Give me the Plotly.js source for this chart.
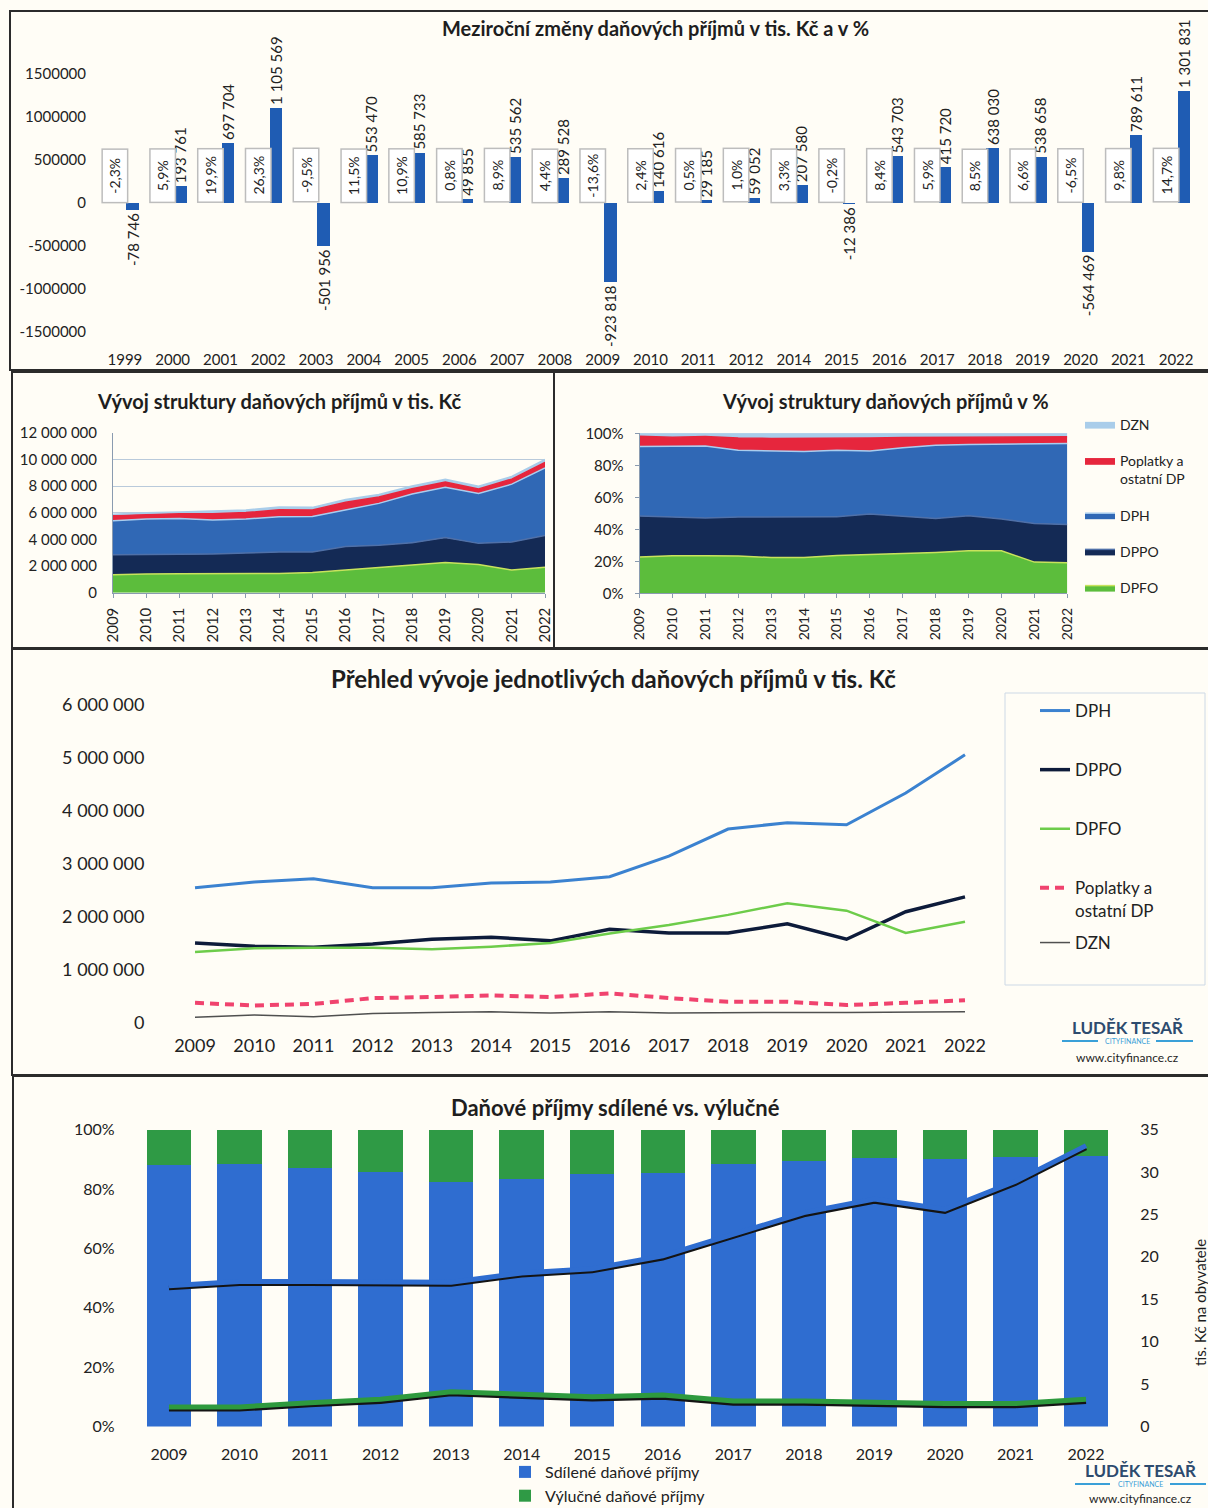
<!DOCTYPE html>
<html><head><meta charset="utf-8">
<script src="https://cdn.plot.ly/plotly-3.0.1.min.js"></script>
<style>html,body{margin:0;padding:0;background:#fffdf6;width:1208px;height:1508px;overflow:hidden;} #chart{width:1208px;height:1508px;overflow:hidden;}</style>
</head><body><div id="chart"></div>
<script>
// ---------------- DATA ----------------
const changeYears = ['1999','2000','2001','2002','2003','2004','2005','2006','2007','2008','2009','2010','2011','2012','2014','2015','2016','2017','2018','2019','2020','2021','2022'];
const changeValues = [-78746, 193761, 697704, 1105569, -501956, 553470, 585733, 49855, 535562, 289528, -923818, 140616, 29185, 59052, 207580, -12386, 543703, 415720, 638030, 538658, -564469, 789611, 1301831];
const changePercent = [-2.3, 5.9, 19.9, 26.3, -9.5, 11.5, 10.9, 0.8, 8.9, 4.4, -13.6, 2.4, 0.5, 1.0, 3.3, -0.2, 8.4, 5.9, 8.5, 6.6, -6.5, 9.8, 14.7];
const changeTickVals = [-1500000, -1000000, -500000, 0, 500000, 1000000, 1500000];
const changeTickText = ['-1500000', '-1000000', '-500000', '0', '500000', '1000000', '1500000'];

const years = ['2009','2010','2011','2012','2013','2014','2015','2016','2017','2018','2019','2020','2021','2022'];
const dph      = [2550000, 2660000, 2720000, 2550000, 2550000, 2640000, 2660000, 2760000, 3150000, 3660000, 3780000, 3740000, 4340000, 5060000];
const dppo     = [1510000, 1450000, 1430000, 1490000, 1580000, 1620000, 1550000, 1770000, 1700000, 1700000, 1870000, 1580000, 2100000, 2380000];
const dpfo     = [1340000, 1410000, 1420000, 1420000, 1390000, 1440000, 1510000, 1690000, 1850000, 2040000, 2260000, 2120000, 1700000, 1910000];
const poplatky = [380000, 330000, 360000, 470000, 490000, 520000, 490000, 560000, 470000, 400000, 400000, 340000, 380000, 430000];
const dzn      = [110000, 150000, 120000, 180000, 200000, 210000, 190000, 210000, 190000, 200000, 200000, 200000, 200000, 210000];

const sharedPct          = [88.0, 88.5, 87.1, 85.7, 82.3, 83.2, 84.9, 85.2, 88.4, 89.3, 90.4, 90.2, 90.7, 91.2];
const exclusivePct       = [12.0, 11.5, 12.9, 14.3, 17.7, 16.8, 15.1, 14.8, 11.6, 10.7, 9.6, 9.8, 9.3, 8.8];
const sharedPerCapita    = [16.6, 17.1, 17.1, 17.0, 17.0, 18.1, 18.6, 20.1, 22.7, 25.2, 26.8, 25.6, 28.9, 33.1];
const exclusivePerCapita = [2.3, 2.3, 2.8, 3.2, 4.1, 3.8, 3.5, 3.7, 3.0, 3.0, 2.8, 2.7, 2.7, 3.2];

// ---------------- HELPERS ----------------
const W = 1208, H = 1508;
const gx = p => p / W;
const gy = p => 1 - p / H;
const FONT = 'Lato, "Open Sans", "DejaVu Sans", sans-serif';
function fmtSpace(v) { const s = Math.abs(v).toString().replace(/\B(?=(\d{3})+(?!\d))/g, ' '); return (v < 0 ? '-' : '') + s; }
function fmtPct(v) { return v.toFixed(1).replace('.', ',') + '%'; }

const traces = [];

// ---- Panel 1: year-on-year changes ----
traces.push({
  type: 'bar', x: changeYears, y: changeValues, xaxis: 'x', yaxis: 'y',
  marker: { color: '#1f5cb3' }, width: 0.26, offset: 0.03,
  text: changeValues.map(fmtSpace), textposition: 'outside', textangle: -90,
  textfont: { size: 15, color: '#222', family: FONT }, constraintext: 'none', cliponaxis: false,
  showlegend: false, hoverinfo: 'skip'
});

// ---- Panels 2 & 3: stacked areas ----
const areaSeries = [
  { name: 'DPFO', y: dpfo, fill: '#5cbd3c', line: '#c8e35c' },
  { name: 'DPPO', y: dppo, fill: '#142a55', line: '#4f70a8' },
  { name: 'DPH', y: dph, fill: '#3068b5', line: '#a9cdee' },
  { name: 'Poplatky a<br>ostatní DP', y: poplatky, fill: '#e6263d', line: '#e6263d' },
  { name: 'DZN', y: dzn, fill: '#a9cdea', line: '#a9cdea' }
];
areaSeries.forEach(s => {
  traces.push({
    type: 'scatter', mode: 'lines', x: years, y: s.y, xaxis: 'x2', yaxis: 'y2',
    stackgroup: 'abs', fillcolor: s.fill, line: { color: s.line, width: 1.5 },
    showlegend: false, hoverinfo: 'skip'
  });
});
areaSeries.forEach((s, i) => {
  traces.push({
    type: 'scatter', mode: 'lines', x: years, y: s.y, xaxis: 'x3', yaxis: 'y3',
    stackgroup: 'pct', groupnorm: 'percent', fillcolor: s.fill, line: { color: s.line, width: 1.5 },
    name: s.name, legend: 'legend', legendgroup: 'p3_' + i, legendrank: 100 - i, showlegend: true, hoverinfo: 'skip'
  });
});

// ---- Panel 4: individual lines ----
const lineSeries = [
  { name: 'DPH', y: dph, color: '#3b82d0', width: 3, dash: 'solid', legend: 'legend2' },
  { name: 'DPPO', y: dppo, color: '#0d1b3a', width: 3.5, dash: 'solid', legend: 'legend2' },
  { name: 'DPFO', y: dpfo, color: '#6dcc4a', width: 2.5, dash: 'solid', legend: 'legend2' },
  { name: 'Poplatky a<br>ostatní DP', y: poplatky, color: '#f0436e', width: 4, dash: '9px,6px', legend: 'legend2' },
  { name: 'DZN', y: dzn, color: '#505050', width: 1.5, dash: 'solid', legend: 'legend4' }
];
lineSeries.forEach((s, i) => {
  traces.push({
    type: 'scatter', mode: 'lines', x: years, y: s.y, xaxis: 'x4', yaxis: 'y4',
    line: { color: s.color, width: s.width, dash: s.dash },
    name: s.name, legend: s.legend, legendgroup: 'p4_' + i, hoverinfo: 'skip'
  });
});

// ---- Panel 5: shared vs exclusive ----
traces.push({ type: 'bar', x: years, y: sharedPct, xaxis: 'x5', yaxis: 'y5', width: 0.63,
  marker: { color: '#2f6dd0' }, name: 'Sdílené daňové příjmy', legend: 'legend3', hoverinfo: 'skip' });
traces.push({ type: 'bar', x: years, y: exclusivePct, xaxis: 'x5', yaxis: 'y5', width: 0.63,
  marker: { color: '#2f9a45' }, name: 'Výlučné daňové příjmy', legend: 'legend3', hoverinfo: 'skip' });
[[sharedPerCapita, '#2f6dd0'], [exclusivePerCapita, '#2e9a3e']].forEach(([arr, col]) => {
  // dark shadow on a hidden, slightly shifted axis, coloured line on the visible right axis
  traces.push({ type: 'scatter', mode: 'lines', x: years, y: arr, xaxis: 'x5', yaxis: 'y6',
    line: { color: '#141414', width: 4.5 }, showlegend: false, hoverinfo: 'skip' });
  traces.push({ type: 'scatter', mode: 'lines', x: years, y: arr, xaxis: 'x5', yaxis: 'y7',
    line: { color: col, width: 5 }, showlegend: false, hoverinfo: 'skip' });
});

// ---------------- LAYOUT ----------------
const panel = (x0, y0, x1, y1) => ({ type: 'rect', xref: 'paper', yref: 'paper',
  x0: gx(x0), x1: gx(x1), y0: gy(y1), y1: gy(y0), line: { color: '#2b2b2b', width: 2 },
  fillcolor: 'rgba(0,0,0,0)', layer: 'below' });
const hline = (x0, x1, y, col, w) => ({ type: 'line', xref: 'paper', yref: 'paper',
  x0: gx(x0), x1: gx(x1), y0: gy(y), y1: gy(y), line: { color: col, width: w } });

const shapes = [
  panel(10, 11, 1212, 370),
  panel(12, 372, 554, 648),
  panel(554, 372, 1212, 648),
  panel(12, 649, 1212, 1075),
  panel(13, 1076, 1212, 1512),
  { type: 'rect', xref: 'paper', yref: 'paper', x0: gx(1005), x1: gx(1205), y0: gy(985), y1: gy(693),
    line: { color: '#cdd9e6', width: 1 }, fillcolor: 'rgba(0,0,0,0)' },
  hline(1062, 1098, 1041, '#3aa0d8', 2), hline(1156, 1193, 1041, '#3aa0d8', 2),
  hline(1075, 1110, 1484, '#3aa0d8', 2), hline(1170, 1206, 1484, '#3aa0d8', 2)
];

const ann = (x, y, text, size, opts) => Object.assign({ xref: 'paper', yref: 'paper', x: gx(x), y: gy(y),
  xanchor: 'center', yanchor: 'middle', text: text, showarrow: false,
  font: { family: FONT, size: size, color: '#1e1e1e' } }, opts || {});

const annotations = [
  ann(655, 28, '<b>Meziroční změny daňových příjmů v tis. Kč a v %</b>', 20),
  ann(279, 401, '<b>Vývoj struktury daňových příjmů v tis. Kč</b>', 20),
  ann(885, 401, '<b>Vývoj struktury daňových příjmů v %</b>', 20),
  ann(613, 678, '<b>Přehled vývoje jednotlivých daňových příjmů v tis. Kč</b>', 24),
  ann(615, 1107, '<b>Daňové příjmy sdílené vs. výlučné</b>', 22),
  ann(1127, 1027, '<b>LUDĚK TESAŘ</b>', 17, { font: { family: FONT, size: 17, color: '#2d4b6e' } }),
  ann(1127, 1041, 'CITYFINANCE', 7, { font: { family: FONT, size: 7, color: '#3aa0d8' } }),
  ann(1127, 1057, 'www.cityfinance.cz', 12),
  ann(1140, 1470, '<b>LUDĚK TESAŘ</b>', 17, { font: { family: FONT, size: 17, color: '#2d4b6e' } }),
  ann(1140, 1484, 'CITYFINANCE', 7, { font: { family: FONT, size: 7, color: '#3aa0d8' } }),
  ann(1140, 1498, 'www.cityfinance.cz', 12),
  ann(1200, 1303, 'tis. Kč na obyvatele', 15, { textangle: -90 })
];
changeYears.forEach((c, i) => {
  annotations.push({ xref: 'x', yref: 'y', x: i, y: 0, xanchor: 'center', yanchor: 'bottom', xshift: -10,
    text: fmtPct(changePercent[i]), textangle: -90, width: 50, height: 22, showarrow: false,
    bgcolor: '#ffffff', bordercolor: '#bdbdbd', borderwidth: 1.5,
    font: { family: FONT, size: 14, color: '#222' } });
});

const tf = (size) => ({ family: FONT, size: size, color: '#222' });

const layout = {
  width: W, height: H, autosize: false, margin: { l: 0, r: 0, t: 0, b: 0, pad: 0, autoexpand: false },
  paper_bgcolor: '#fffdf6', plot_bgcolor: 'rgba(0,0,0,0)',
  font: { family: FONT, size: 14, color: '#222' }, separators: ', ', barmode: 'stack',
  hovermode: false, shapes: shapes, annotations: annotations,
  // panel 1
  xaxis: { domain: [gx(101), gx(1200)], anchor: 'y', type: 'category', range: [-0.5, 22.5], tickangle: 0,
    tickfont: tf(15), showgrid: false, zeroline: false, showline: false, ticks: '', ticklabelstandoff: 4 },
  yaxis: { domain: [gy(345), gy(40)], anchor: 'x', range: [-1651000, 1895000], tickvals: changeTickVals,
    ticktext: changeTickText, tickfont: tf(15), showgrid: false, zeroline: false, showline: false, ticklabelstandoff: 14 },
  // panel 2
  xaxis2: { domain: [gx(113), gx(545)], anchor: 'y2', type: 'category', range: [0, 13], tickangle: -90,
    tickfont: tf(15), showgrid: false, zeroline: false, showline: true, linecolor: '#8a9bb0',
    ticks: 'outside', ticklen: 4, tickcolor: '#8a9bb0', ticklabelstandoff: 4 },
  yaxis2: { domain: [gy(592.7), gy(432.7)], anchor: 'x2', range: [0, 12000000], dtick: 2000000, tickformat: ',d',
    tickfont: tf(15), showgrid: true, gridcolor: '#b9cadb', zeroline: false, showline: true, linecolor: '#8a9bb0',
    ticklabelstandoff: 12 },
  // panel 3
  xaxis3: { domain: [gx(639.5), gx(1067.3)], anchor: 'y3', type: 'category', range: [0, 13], tickangle: -90,
    tickfont: tf(14), showgrid: false, zeroline: false, showline: true, linecolor: '#8a9bb0',
    ticks: 'outside', ticklen: 4, tickcolor: '#8a9bb0', ticklabelstandoff: 4 },
  yaxis3: { domain: [gy(593.3), gy(433.3)], anchor: 'x3', range: [0, 100], dtick: 20, ticksuffix: '%',
    tickfont: tf(15), showgrid: false, zeroline: false, showline: true, linecolor: '#8a9bb0',
    ticks: 'outside', ticklen: 4, tickcolor: '#8a9bb0', ticklabelstandoff: 8 },
  // panel 4
  xaxis4: { domain: [gx(165.4), gx(994.6)], anchor: 'y4', type: 'category', range: [-0.5, 13.5], tickangle: 0,
    tickfont: tf(18), showgrid: false, zeroline: false, showline: false, ticks: '', ticklabelstandoff: 10 },
  yaxis4: { domain: [gy(1023), gy(705)], anchor: 'x4', range: [0, 6000000], dtick: 1000000, tickformat: ',d',
    tickfont: tf(18), showgrid: false, zeroline: false, showline: false, ticklabelstandoff: 20 },
  // panel 5
  xaxis5: { domain: [gx(133.7), gx(1121.3)], anchor: 'y5', type: 'category', range: [-0.5, 13.5], tickangle: 0,
    tickfont: tf(16), showgrid: false, zeroline: false, showline: false, ticks: '', ticklabelstandoff: 16 },
  yaxis5: { domain: [gy(1426.5), gy(1129.5)], anchor: 'x5', range: [0, 100], dtick: 20, ticksuffix: '%',
    tickfont: tf(16), showgrid: false, zeroline: false, showline: false, ticklabelstandoff: 18 },
  yaxis6: { overlaying: 'y5', side: 'right', anchor: 'x5', range: [0.28, 35.28], visible: false,
    showgrid: false, zeroline: false },
  yaxis7: { overlaying: 'y5', side: 'right', anchor: 'x5', range: [0, 35], dtick: 5,
    tickfont: tf(16), showgrid: false, zeroline: false, showline: false, ticklabelstandoff: 18 },
  // legends
  legend: { x: gx(1080), y: gy(409), xanchor: 'left', yanchor: 'top', traceorder: 'grouped',
    tracegroupgap: 15, valign: 'top', font: tf(14), bgcolor: 'rgba(0,0,0,0)' },
  legend2: { x: gx(1035), y: gy(693), xanchor: 'left', yanchor: 'top', traceorder: 'grouped',
    tracegroupgap: 34, valign: 'top', font: tf(17), bgcolor: 'rgba(0,0,0,0)' },
  legend4: { x: gx(1035), y: gy(925), xanchor: 'left', yanchor: 'top',
    font: tf(17), bgcolor: 'rgba(0,0,0,0)' },
  legend3: { x: gx(505), y: gy(1455), xanchor: 'left', yanchor: 'top', traceorder: 'normal',
    font: tf(16), bgcolor: 'rgba(0,0,0,0)', tracegroupgap: 0 }
};

Plotly.newPlot('chart', traces, layout, { staticPlot: true, displayModeBar: false });
</script>
</body></html>
